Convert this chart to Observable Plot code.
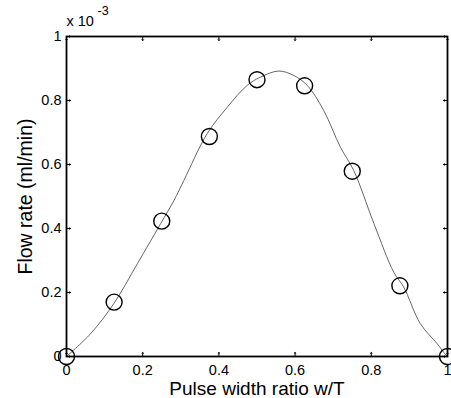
<!DOCTYPE html>
<html>
<head>
<meta charset="utf-8">
<script src="https://cdn.jsdelivr.net/npm/d3@7"></script>
<script src="https://cdn.jsdelivr.net/npm/@observablehq/plot@0.6"></script>
<style>
  html, body { margin: 0; padding: 0; background: #fff; }
  svg { font-family: "Liberation Sans", Arial, sans-serif; }
</style>
</head>
<body>
<div id="chart"></div>
<script>
// Measured points (flow rate in units of 1e-3 ml/min)
const measX = [0, 0.125, 0.25, 0.375, 0.5, 0.625, 0.75, 0.875, 1];
const measY = [0, 0.17, 0.423, 0.6875, 0.865, 0.846, 0.579, 0.221, 0];

// Fitted curve
const fitX = [0, 0.063, 0.124, 0.186, 0.247, 0.282, 0.308, 0.369, 0.422, 0.474, 0.509, 0.557, 0.597, 0.632, 0.675, 0.719, 0.754, 0.807, 0.859, 0.885, 0.929, 0.973, 0.99, 1];
const fitY = [0, 0.071, 0.165, 0.29, 0.415, 0.4875, 0.55, 0.696, 0.779, 0.847, 0.873, 0.892, 0.878, 0.847, 0.769, 0.654, 0.581, 0.415, 0.263, 0.217, 0.102, 0.04, 0.013, 0];

const xTicks = [0, 0.2, 0.4, 0.6, 0.8, 1];
const yTicks = [0, 0.2, 0.4, 0.6, 0.8, 1];
const xLabel = "Pulse width ratio w/T";
const yLabel = "Flow rate (ml/min)";
const multBase = "x 10";
const multExp = "-3";

const meas = measX.map((x, i) => ({x, y: measY[i]}));
const fit = fitX.map((x, i) => ({x, y: fitY[i]}));
const fmt = d => String(d);

const chart = Plot.plot({
  width: 451,
  height: 398,
  marginLeft: 66,
  marginRight: 4,
  marginTop: 36,
  marginBottom: 42,
  style: {fontFamily: "'Liberation Sans', Arial, sans-serif", color: "#000", background: "#fff"},
  x: {domain: [0, 1]},
  y: {domain: [0, 1]},
  marks: [
    Plot.line(fit, {x: "x", y: "y", curve: "catmull-rom", stroke: "#555", strokeWidth: 0.9}),
    Plot.dot(meas, {x: "x", y: "y", r: 8, stroke: "#000", strokeWidth: 1.4, fill: "none"}),
    Plot.frame({stroke: "#000", strokeWidth: 1.8}),
    // inward ticks
    Plot.vector(xTicks, {x: d => d, y: 0, length: 4, rotate: 0, anchor: "start", stroke: "#000", strokeWidth: 1}),
    Plot.vector(xTicks, {x: d => d, y: 1, length: 4, rotate: 180, anchor: "start", stroke: "#000", strokeWidth: 1}),
    Plot.vector(yTicks, {x: 0, y: d => d, length: 4, rotate: 90, anchor: "start", stroke: "#000", strokeWidth: 1}),
    Plot.vector(yTicks, {x: 1, y: d => d, length: 4, rotate: -90, anchor: "start", stroke: "#000", strokeWidth: 1}),
    Plot.axisX(xTicks, {tickSize: 0, tickPadding: 8, fontSize: 14.5, tickFormat: fmt, label: null}),
    Plot.axisY(yTicks, {tickSize: 0, tickPadding: 5, fontSize: 14.5, tickFormat: fmt, label: null}),
    Plot.text([xLabel], {frameAnchor: "bottom", textAnchor: "middle", lineAnchor: "middle", dy: 32, fontSize: 19, fill: "#000"}),
    Plot.text([yLabel], {frameAnchor: "left", textAnchor: "middle", lineAnchor: "middle", dx: -41, rotate: -90, fontSize: 19.5, fill: "#000"}),
    Plot.text([multBase], {frameAnchor: "top-left", textAnchor: "start", lineAnchor: "middle", dx: 0, dy: -15, fontSize: 14.5, fill: "#000"}),
    Plot.text([multExp], {frameAnchor: "top-left", textAnchor: "start", lineAnchor: "middle", dx: 31, dy: -26, fontSize: 12.5, fill: "#000"})
  ]
});
document.getElementById("chart").appendChild(chart);
</script>
</body>
</html>
